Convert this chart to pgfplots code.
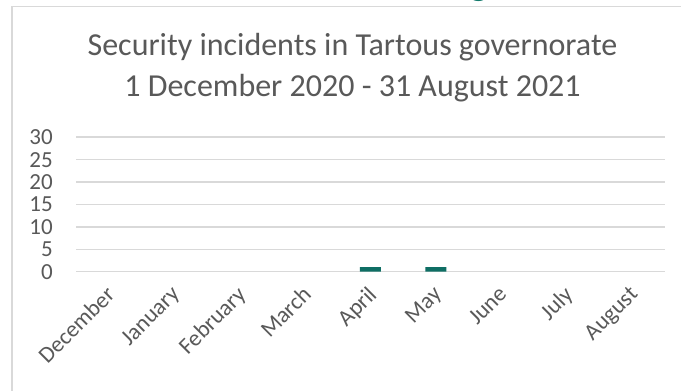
\documentclass[border=0pt]{standalone}
\usepackage{pgfplots}
\pgfplotsset{compat=1.18}
\usepackage{fontspec}
\setmainfont{Carlito}
\definecolor{txt}{HTML}{595959}
\definecolor{grd}{HTML}{D9D9D9}
\definecolor{bar}{HTML}{0F6E64}
\definecolor{head}{HTML}{137A6C}
\begin{document}
\begin{tikzpicture}[x=1pt,y=1pt]
\useasboundingbox (0,0) rectangle (681,391);
\clip (0,0) rectangle (681,391);
\fill[white] (0,0) rectangle (681,391);
\node[anchor=base, text=head, font=\fontsize{36}{36}\selectfont\bfseries, inner sep=0pt] at (479,395) {g};
\draw[grd, line width=1.5pt] (12,-20) -- (12,384.3) -- (720,384.3);
\node[anchor=base, text=txt, font=\fontsize{32}{34}\selectfont, inner sep=0pt] at (352.5,335) {Security incidents in Tartous governorate};
\node[anchor=base, text=txt, font=\fontsize{32}{34}\selectfont, inner sep=0pt] at (352.5,294.3) {1 December 2020 - 31 August 2021};
\begin{axis}[
  at={(76pt,119.3pt)}, anchor=south west,
  scale only axis, width=589pt, height=134.5pt,
  xmin=-0.5, xmax=8.5, ymin=0, ymax=30,
  enlargelimits=false, clip=false,
  axis line style={draw=none},
  major tick length=0pt,
  ytick={0,5,10,15,20,25,30},
  ymajorgrids, grid style={grd, line width=1.5pt},
  xtick={0,...,8},
  xticklabels={December,January,February,March,April,May,June,July,August},
  /pgf/number format/assume math mode=true,
  ticklabel style={text=txt, font=\fontsize{23}{24}\selectfont},
  yticklabel style={anchor=east, inner sep=0pt, xshift=-23pt},
  xticklabel style={anchor=north east, inner sep=0pt, xshift=-4pt, yshift=-13pt, rotate=45},
  ybar, bar width=21pt,
  y filter/.expression={y==0 ? nan : y},
  unbounded coords=discard,
]
\addplot[fill=bar, draw=none] coordinates {(0,0) (1,0) (2,0) (3,0) (4,1) (5,1) (6,0) (7,0) (8,0)};
\end{axis}
\end{tikzpicture}
\end{document}
